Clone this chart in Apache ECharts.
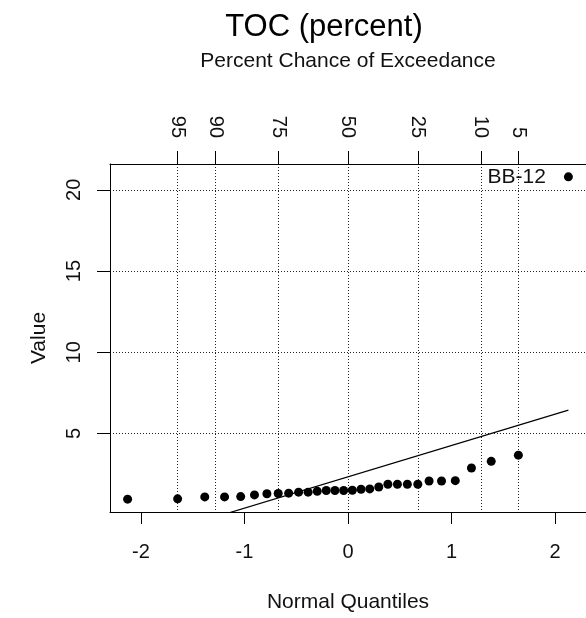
<!DOCTYPE html>
<html>
<head>
<meta charset="utf-8">
<script src="https://cdn.jsdelivr.net/npm/echarts@6/dist/echarts.min.js"></script>
<style>
  html, body { margin: 0; padding: 0; background: #fff; }
  #chart { width: 586px; height: 618px; }
</style>
</head>
<body>
<div id="chart"></div>
<script>
// normal quantiles of the 30 samples (plotting positions)
const quantiles = [-2.128, -1.645, -1.383, -1.192, -1.036, -0.903, -0.783, -0.674, -0.573, -0.477,
  -0.385, -0.297, -0.210, -0.126, -0.042, 0.042, 0.126, 0.210, 0.297, 0.385,
  0.477, 0.573, 0.674, 0.783, 0.903, 1.036, 1.192, 1.383, 1.645, 2.128]
// TOC values, sorted
const tocValues = [0.96, 0.98, 1.10, 1.10, 1.12, 1.22, 1.29, 1.31, 1.33, 1.39,
  1.39, 1.45, 1.49, 1.49, 1.49, 1.51, 1.57, 1.59, 1.71, 1.88,
  1.88, 1.88, 1.88, 2.08, 2.08, 2.10, 2.88, 3.29, 3.67, 20.8]
const pointNames = ['', '', '', '', '', '', '', '', '', '',
  '', '', '', '', '', '', '', '', '', '',
  '', '', '', '', '', '', '', '', '', 'BB-12']

// reference line end points
const fitX = [-2.128, 2.128]
const fitY = [-1.77, 6.44]

// top axis: percent chance of exceedance
const exceedPct = [95, 90, 75, 50, 25, 10, 5]
const exceedQ = [-1.645, -1.282, -0.674, 0, 0.674, 1.282, 1.645]

const xTicks = [-2, -1, 0, 1, 2]
const yTicks = [5, 10, 15, 20]

const FONT = 'Liberation Sans, Arial, sans-serif'
const dotted = { color: '#222', width: 1, type: [1, 2] }

const chart = echarts.init(document.getElementById('chart'))

const option = {
  animation: false,
  backgroundColor: '#fff',
  graphic: [{
    type: 'text',
    style: {
      x: 324, y: 27, text: 'TOC (percent)',
      textAlign: 'center', textVerticalAlign: 'middle',
      font: '31px ' + FONT, fill: '#000'
    }
  }],
  grid: { left: 110, top: 164, right: -1, bottom: 105 },
  xAxis: [{
    type: 'value',
    position: 'bottom',
    min: -2.298, max: 2.298,
    name: 'Normal Quantiles',
    nameLocation: 'middle',
    nameGap: 80,
    nameTextStyle: { fontFamily: FONT, fontSize: 21, color: '#111' },
    axisLine: { show: true, onZero: false, lineStyle: { color: '#000', width: 1 } },
    axisTick: { show: true, length: 12, customValues: xTicks, lineStyle: { color: '#000', width: 1 } },
    axisLabel: { customValues: xTicks, margin: 30, fontFamily: FONT, fontSize: 20, color: '#111' },
    splitLine: { show: false }
  }, {
    type: 'value',
    position: 'top',
    min: -2.298, max: 2.298,
    name: 'Percent Chance of Exceedance',
    nameLocation: 'middle',
    nameGap: 92,
    nameTextStyle: { fontFamily: FONT, fontSize: 21, color: '#111' },
    axisLine: { show: true, onZero: false, lineStyle: { color: '#000', width: 1 } },
    axisTick: { show: true, length: 13, customValues: exceedQ, lineStyle: { color: '#000', width: 1 } },
    axisLabel: {
      customValues: exceedQ, rotate: 90, margin: 26,
      fontFamily: FONT, fontSize: 20, color: '#111',
      formatter: v => {
        const i = exceedQ.findIndex(q => Math.abs(q - v) < 1e-6)
        return i >= 0 ? String(exceedPct[i]) : ''
      }
    },
    splitLine: { show: true, lineStyle: dotted }
  }],
  yAxis: {
    type: 'value',
    position: 'left',
    min: 0.17, max: 21.59,
    name: 'Value',
    nameLocation: 'middle',
    nameGap: 60,
    nameTextStyle: { fontFamily: FONT, fontSize: 21, color: '#111' },
    axisLine: { show: true, onZero: false, lineStyle: { color: '#000', width: 1 } },
    axisTick: { show: true, length: 13, customValues: yTicks, lineStyle: { color: '#000', width: 1 } },
    axisLabel: { customValues: yTicks, rotate: 90, margin: 26, fontFamily: FONT, fontSize: 20, color: '#111' },
    splitLine: { show: true, lineStyle: dotted }
  },
  series: [{
    type: 'line',
    xAxisIndex: 0,
    data: fitX.map((x, i) => [x, fitY[i]]),
    showSymbol: false,
    symbol: 'none',
    lineStyle: { color: '#000', width: 1.2 },
    clip: true,
    silent: true,
    z: 3
  }, {
    type: 'scatter',
    xAxisIndex: 0,
    data: quantiles.map((q, i) => ({ value: [q, tocValues[i]], name: pointNames[i] })),
    symbol: 'circle',
    symbolSize: 9,
    itemStyle: { color: '#000', opacity: 1 },
    label: {
      show: true,
      position: 'left',
      distance: 18,
      fontFamily: FONT,
      fontSize: 21,
      color: '#111',
      formatter: p => p.name
    },
    z: 4
  }]
}

chart.setOption(option)
</script>
</body>
</html>
